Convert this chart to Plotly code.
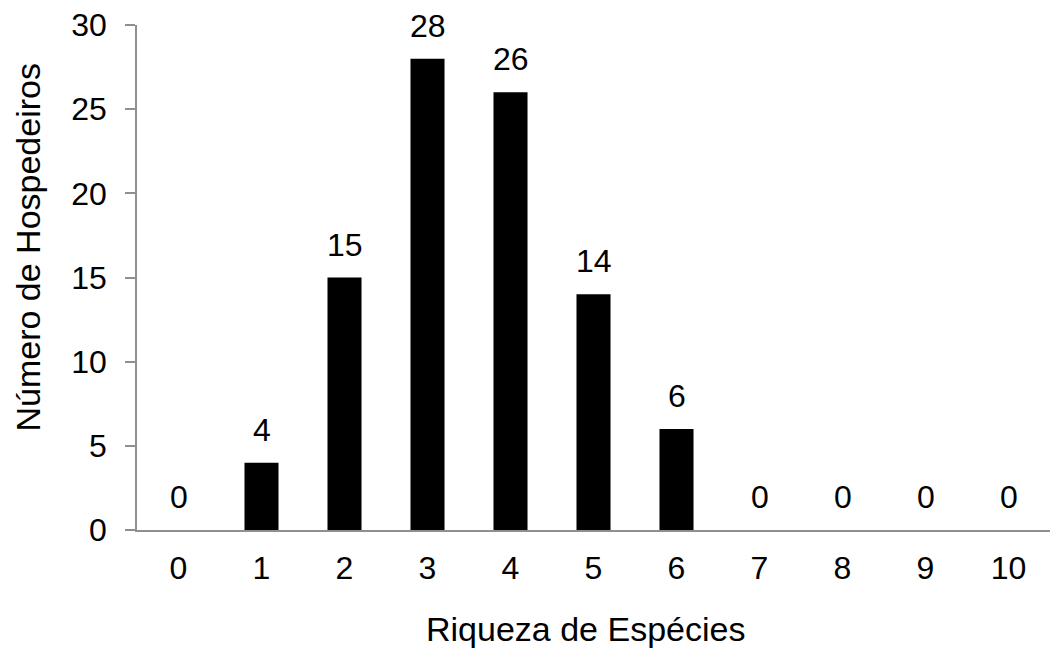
import plotly.graph_objects as go

categories = ["0", "1", "2", "3", "4", "5", "6", "7", "8", "9", "10"]
values = [0, 4, 15, 28, 26, 14, 6, 0, 0, 0, 0]
y_ticks = [0, 5, 10, 15, 20, 25, 30]
x_title = "Riqueza de Espécies"
y_title = "Número de Hospedeiros"

FONT = "Liberation Sans, Arial, sans-serif"
FS = 32
FS_TITLE = 34
AXIS_COLOR = "#8f8f8f"

fig = go.Figure()
fig.add_trace(go.Bar(
    x=categories, y=values,
    marker=dict(color="black", line=dict(width=0)),
    width=0.41,
    hoverinfo="x+y",
))

for c, v in zip(categories, values):
    fig.add_annotation(
        x=c, y=v, text=str(v), showarrow=False,
        yanchor="middle", yshift=33,
        font=dict(family=FONT, size=FS, color="black"),
    )

# axis titles (placed like the reference, slightly off-centre)
fig.add_annotation(
    x=0.491, y=-0.196, xref="paper", yref="paper",
    text=x_title, showarrow=False, xanchor="center", yanchor="middle",
    font=dict(family=FONT, size=FS_TITLE, color="black"),
)
fig.add_annotation(
    x=-0.119, y=0.56, xref="paper", yref="paper",
    text=y_title, showarrow=False, textangle=-90,
    xanchor="center", yanchor="middle",
    font=dict(family=FONT, size=FS_TITLE, color="black"),
)

fig.update_layout(
    width=1053, height=650,
    margin=dict(l=137, r=3, t=25, b=120, autoexpand=False),
    paper_bgcolor="white", plot_bgcolor="white",
    showlegend=False,
    font=dict(family=FONT, size=FS, color="black"),
    bargap=0.59,
)
fig.update_xaxes(
    type="category", automargin=False,
    showline=True, linecolor=AXIS_COLOR, linewidth=1.5,
    showgrid=False, zeroline=False,
    ticks="", ticklabelstandoff=9,
    tickfont=dict(family=FONT, size=FS, color="black"),
)
fig.update_yaxes(
    range=[0, 30], tickvals=y_ticks, automargin=False,
    showline=True, linecolor=AXIS_COLOR, linewidth=1.5,
    showgrid=False, zeroline=False,
    ticks="outside", ticklen=10, tickcolor=AXIS_COLOR, tickwidth=1.5,
    ticklabelstandoff=12,
    tickfont=dict(family=FONT, size=FS, color="black"),
)

fig.write_html(
    "out.html",
    config={"displayModeBar": False},
    post_script="document.body.style.margin='0';document.body.style.overflow='hidden';",
)
